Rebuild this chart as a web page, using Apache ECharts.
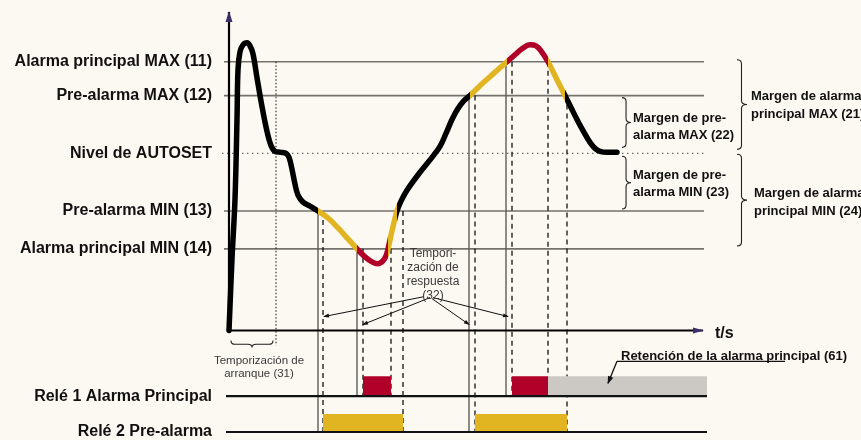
<!DOCTYPE html>
<html><head><meta charset="utf-8">
<script src="https://cdn.jsdelivr.net/npm/echarts@6/dist/echarts.min.js"></script>
<style>html,body{margin:0;padding:0;background:#fcf8f2}#c{width:861px;height:440px}</style>
</head><body><div id="c"></div>
<script>
// ---- threshold levels (signal units, 0 = time axis) ----
const levelNames = ['Alarma principal MAX (11)', 'Pre-alarma MAX (12)', 'Nivel de AUTOSET', 'Pre-alarma MIN (13)', 'Alarma principal MIN (14)'];
const levelValues = [270, 236, 178, 120, 82];
// ---- relay rows ----
const relayNames = ['Relé 1 Alarma Principal', 'Relé 2 Pre-alarma'];
const relayBase = [-66, -102];
const relayTop = [-46, -84];
// ---- measured signal (time, level) ----
const curveT = [0,3,6,8,9,11,14,18,21,24,28,33,38,42,46,52,57,60,63,66,69,74,81,89,99,109,119,128,136,143,149,154,157,159,163,168,172,178,191,203,211,217,223,229,235,241,251,261,271,278,286,293,301,307,312,319,327,336,342,348,355,361,366,371,378,388];
const curveV = [0,72,132,212,262,280,287,289,286,278,254,225,200,186,180,179,178,174,162,147,136,129,125,120,113,103,92,82,74,69,67,70,75,82,100,120,130,141,159,174,185,198,212,223,231,236,246,255,264,270,277,283,287,286,281,270,254,236,224,212,199,189,183,180,179,179];
// times where the curve crosses a threshold, and its state after each one
const colorBreaks = [89,128,159,168,241,278,319,336];
const colorStates = ['ok','pre','alarm','pre','ok','pre','alarm','pre','ok'];
// threshold crossings (solid) and delayed relay switching (dashed)
const crossT = [89,128,240,277];
const crossLevel = [3,4,1,0];
const crossRelay = [1,0,1,0];
const delayT = [94,134,162,174,246,283,319,338];
const delayLevel = [3,4,4,3,1,0,0,1];
const delayRelay = [1,0,0,1,1,0,0,1];
// relay on-intervals
const relay1Alarm = [[134,162],[283,319]];
const relay1Hold = [[319,478]];
const relay2Pre = [[94,174],[246,338]];
// timers
const startupEnd = 47;
const responseFrom = [[195,34],[201,33],[203,32],[204,33]];
const responseTo = [[95,14],[134,6],[240,6],[279,14]];

const COL = {ok:'#000000', pre:'#e1b521', alarm:'#b0002a', hold:'#ccc8c3'};
const FONT = '"Liberation Sans", Arial, sans-serif';

function segSeries(list, style, z, arrow) {
  return {
    type:'custom', coordinateSystem:'cartesian2d', silent:true, z:z||3,
    data:list, encode:{x:[0,2], y:[1,3]},
    renderItem:(p, api) => {
      const a = api.coord([api.value(0), api.value(1)]);
      const b = api.coord([api.value(2), api.value(3)]);
      const ch = [{type:'line', shape:{x1:a[0],y1:a[1],x2:b[0],y2:b[1]},
        style:Object.assign({stroke:'#000', fill:null}, style)}];
      if (arrow) {
        const dx=b[0]-a[0], dy=b[1]-a[1], L=Math.hypot(dx,dy), ux=dx/L, uy=dy/L, s=arrow.len, w=arrow.w;
        ch.push({type:'polygon', shape:{points:[[b[0]+ux,b[1]+uy],[b[0]-ux*s-uy*w,b[1]-uy*s+ux*w],[b[0]-ux*s+uy*w,b[1]-uy*s-ux*w]]},
          style:{fill:arrow.color||style.stroke||'#000'}});
      }
      return {type:'group', children:ch};
    }
  };
}
function rectSeries(list, color, z) {
  return {
    type:'custom', coordinateSystem:'cartesian2d', silent:true, z:z||4,
    data:list, encode:{x:[0,2], y:[1,3]},
    renderItem:(p, api) => {
      const a = api.coord([api.value(0), api.value(1)]);
      const b = api.coord([api.value(2), api.value(3)]);
      return {type:'rect', shape:{x:a[0], y:b[1], width:b[0]-a[0], height:a[1]-b[1]}, style:{fill:color}};
    }
  };
}

// lines
const levelLines = levelValues.map((v,i) => i===2 ? null : [-5, v, 475, v]).filter(Boolean);
const autosetLine = [[-7, levelValues[2], 476, levelValues[2]]];
const relayLines = relayBase.map(v => [-3, v, 478, v]);
const solidLines = crossT.map((t,i) => [t, levelValues[crossLevel[i]], t, relayBase[crossRelay[i]]]);
const dashedLines = delayT.map((t,i) => [t, levelValues[delayLevel[i]], t, relayBase[delayRelay[i]]]);
const startupLine = [[startupEnd, levelValues[0], startupEnd, -15]];
const responseLines = responseFrom.map((f,i) => [f[0], f[1], responseTo[i][0], responseTo[i][1]]);

const pieces = colorStates.map((s,i) => {
  const p = {color: COL[s]};
  if (i > 0) p.gte = colorBreaks[i-1];
  if (i < colorBreaks.length) p.lt = colorBreaks[i];
  return p;
});

// annotation texts
const notes = [
  {t:204, v:56, text:'Tempori-\nzación de\nrespuesta\n(32)', font:'12px '+FONT, fill:'#3a3a3a', align:'center', lh:14},
  {t:30, v:-37, text:'Temporización de\narranque (31)', font:'11.5px '+FONT, fill:'#3a3a3a', align:'center', lh:13.5},
  {t:486, v:-3, text:'t/s', font:'bold 16px '+FONT, fill:'#111', align:'left', lh:16},
  {t:392, v:-26, text:'Retención de la alarma principal (61)', font:'bold 13px '+FONT, fill:'#111', align:'left', lh:14},
  {t:404, v:205, text:'Margen de pre-\nalarma MAX (22)', font:'bold 13px '+FONT, fill:'#111', align:'left', lh:17},
  {t:404, v:147, text:'Margen de pre-\nalarma MIN (23)', font:'bold 13px '+FONT, fill:'#111', align:'left', lh:17},
  {t:522, v:226, text:'Margen de alarma\nprincipal MAX (21)', font:'bold 13px '+FONT, fill:'#111', align:'left', lh:18},
  {t:525, v:129, text:'Margen de alarma\nprincipal MIN (24)', font:'bold 13px '+FONT, fill:'#111', align:'left', lh:18}
];
// braces: x position, top level, bottom level
const braces = [
  {t:393, top:234, bot:184, w:9},
  {t:393, top:175, bot:122, w:9},
  {t:508, top:272, bot:182, w:10},
  {t:508, top:177, bot:85, w:10}
];

const option = {
  backgroundColor:'#fcf8f2',
  animation:false,
  grid:{left:229, right:157, top:12, bottom:0},
  xAxis:{type:'value', min:0, max:475, show:false},
  yAxis:{type:'value', min:-108, max:320,
    axisLine:{show:false}, axisTick:{show:false}, splitLine:{show:false},
    axisLabel:{customValues: levelValues.concat(relayBase), margin:17,
      color:'#111', fontSize:16, fontWeight:'bold', fontFamily:FONT,
      formatter:(v) => { const i = levelValues.indexOf(v); if (i>=0) return levelNames[i]; const j = relayBase.indexOf(v); return j>=0 ? relayNames[j] : ''; }}
  },
  visualMap:{type:'piecewise', show:false, dimension:0, seriesIndex:0, pieces},
  series:[
    {type:'line', data:curveT.map((t,i)=>[t,curveV[i]]), smooth:0.35, showSymbol:false, clip:false, z:10,
      lineStyle:{width:5.5, cap:'round', join:'round'}},
    segSeries(levelLines, {stroke:'#75716c', lineWidth:1.6}, 2),
    segSeries(autosetLine, {stroke:'#6a6661', lineWidth:1.4, lineDash:[1.4,3.6]}, 2),
    segSeries(relayLines, {stroke:'#111', lineWidth:2.2}, 5),
    segSeries(solidLines, {stroke:'#5f5b57', lineWidth:1.4}, 3),
    segSeries(dashedLines, {stroke:'#111', lineWidth:1.3, lineDash:[5,4]}, 3),
    segSeries(startupLine, {stroke:'#111', lineWidth:1, lineDash:[1.5,2]}, 3),
    segSeries(responseLines, {stroke:'#111', lineWidth:1}, 6, {len:5, w:2, color:'#111'}),
    segSeries([[0,-1,0,320]], {stroke:'#000', lineWidth:2.2}, 7, {len:10, w:3.5, color:'#3b2e6c'}),
    segSeries([[0,0,474,0]], {stroke:'#000', lineWidth:2.2}, 7, {len:10, w:3, color:'#3b2e6c'}),
    segSeries([[556,-31,388,-31]], {stroke:'#111', lineWidth:1.3}, 7),
    segSeries([[388,-31,379,-53]], {stroke:'#111', lineWidth:1.3}, 7, {len:7, w:2.8, color:'#111'}),
    rectSeries(relay1Alarm.map(r=>[r[0], relayBase[0], r[1], relayTop[0]]), COL.alarm, 4),
    rectSeries(relay1Hold.map(r=>[r[0], relayBase[0], r[1], relayTop[0]]), COL.hold, 4),
    rectSeries(relay2Pre.map(r=>[r[0], relayBase[1], r[1], relayTop[1]]), COL.pre, 4),
    { // braces
      type:'custom', coordinateSystem:'cartesian2d', silent:true, z:6,
      data:braces.map(b=>[b.t, b.top, b.t, b.bot]), encode:{x:[0,2], y:[1,3]},
      renderItem:(p, api) => {
        const b = braces[p.dataIndex];
        const a = api.coord([b.t, b.top]), c = api.coord([b.t, b.bot]);
        const x0=a[0], y1=a[1], y2=c[1], w=b.w, xm=x0+w*0.45, xt=x0+w, ym=(y1+y2)/2, r=4;
        const d = `M${x0} ${y1} Q${xm} ${y1} ${xm} ${y1+r} L${xm} ${ym-r} Q${xm} ${ym} ${xt} ${ym} Q${xm} ${ym} ${xm} ${ym+r} L${xm} ${y2-r} Q${xm} ${y2} ${x0} ${y2}`;
        return {type:'path', shape:{pathData:d}, style:{stroke:'#222', fill:null, lineWidth:1.1}};
      }
    },
    { // startup brace under the time axis
      type:'custom', coordinateSystem:'cartesian2d', silent:true, z:6,
      data:[[2,-10,44,-10]], encode:{x:[0,2], y:[1,3]},
      renderItem:(p, api) => {
        const a = api.coord([api.value(0), api.value(1)]), b = api.coord([api.value(2), api.value(3)]);
        const x1=a[0], x2=b[0], y0=a[1], h=7, ym=y0+h*0.55, yt=y0+h, xm=(x1+x2)/2, r=4;
        const d = `M${x1} ${y0} Q${x1} ${ym} ${x1+r} ${ym} L${xm-r} ${ym} Q${xm} ${ym} ${xm} ${yt} Q${xm} ${ym} ${xm+r} ${ym} L${x2-r} ${ym} Q${x2} ${ym} ${x2} ${y0}`;
        return {type:'path', shape:{pathData:d}, style:{stroke:'#222', fill:null, lineWidth:1.1}};
      }
    },
    { // annotation texts
      type:'custom', coordinateSystem:'cartesian2d', silent:true, z:8,
      data:notes.map(n=>[n.t, n.v]), encode:{x:0, y:1},
      renderItem:(p, api) => {
        const n = notes[p.dataIndex];
        const c = api.coord([n.t, n.v]);
        return {type:'text', x:c[0], y:c[1], style:{text:n.text, font:n.font, fill:n.fill, align:n.align, verticalAlign:'middle', lineHeight:n.lh}};
      }
    }
  ]
};
const chart = echarts.init(document.getElementById('c'));
chart.setOption(option);
</script>
</body></html>
